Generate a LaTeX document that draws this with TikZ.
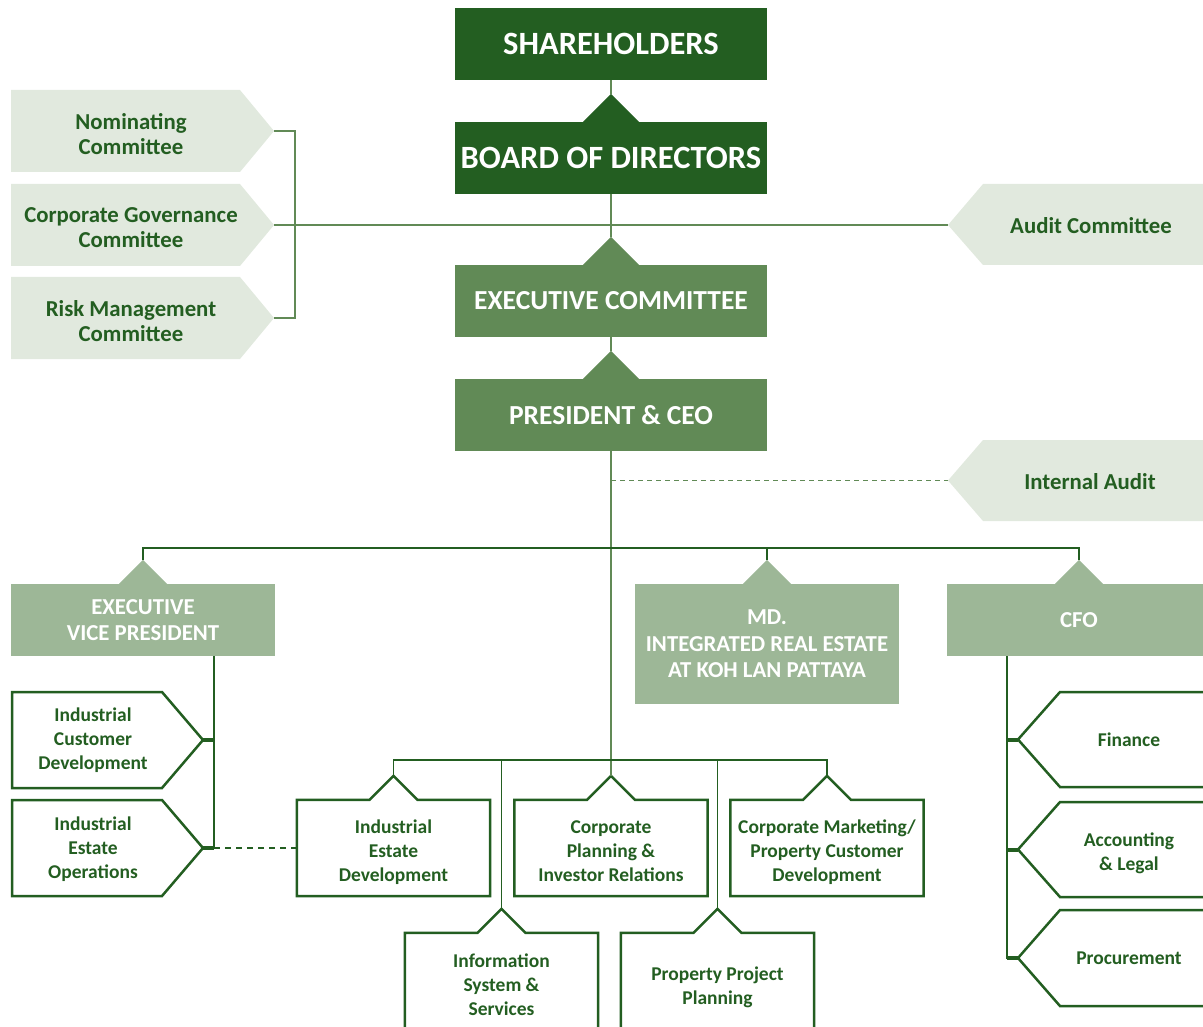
\documentclass[tikz,border=0pt]{standalone}
\usepackage{fontspec}
\setmainfont{Carlito}
\definecolor{dkg}{RGB}{35,94,33}
\definecolor{mdg}{RGB}{97,138,86}
\definecolor{ltg}{RGB}{157,183,151}
\definecolor{pal}{RGB}{225,233,222}
\newcommand{\fs}[2]{\fontsize{#1}{#2}\selectfont}
\newcommand{\ptri}[3]{\fill[#1] ([xshift=-#2]#3) -- ([yshift=#2]#3) -- ([xshift=#2]#3) -- cycle;}
\newcommand{\tbox}[1]{\draw[outl] (#1.north west) -- ([xshift=-24pt]#1.north) -- ([yshift=24pt]#1.north) -- ([xshift=24pt]#1.north) -- (#1.north east) -- (#1.south east) -- (#1.south west) -- cycle;}
\tikzset{
  hd/.style={rectangle, inner sep=0pt, minimum width=312pt, minimum height=72pt, text=white, font=\bfseries\fs{32.5}{36}, align=center},
  sub/.style={rectangle, inner sep=0pt, minimum width=264pt, minimum height=72pt, fill=ltg, text=white, font=\bfseries\fs{22.8}{26.5}, align=center},
  ctext/.style={text=dkg, font=\bfseries\fs{22.8}{25}, align=center, inner sep=0pt},
  btext/.style={text=dkg, font=\bfseries\fs{19.5}{24}, align=center, inner sep=0pt},
  bbox/.style={rectangle, inner sep=0pt, minimum width=193pt, minimum height=96pt},
  outl/.style={draw=dkg, line width=2.5pt, line join=miter},
  ln/.style={draw=dkg, line width=1.5pt},
  mln/.style={draw=mdg, line width=1.5pt},
  stub/.style={draw=dkg, line width=4pt},
}
\begin{document}
\begin{tikzpicture}[x=1pt,y=-1pt]
\useasboundingbox (0,0) rectangle (1203,1027);
\clip (0,0) rectangle (1203,1027);

% ---- top chain
\node[hd, fill=dkg] (sh) at (611,44) {SHAREHOLDERS};
\node[hd, fill=dkg] (bod) at (611,158) {BOARD OF DIRECTORS};
\node[hd, fill=mdg, font=\bfseries\fs{27.5}{31}] (exc) at (611,301) {EXECUTIVE COMMITTEE};
\node[hd, fill=mdg, font=\bfseries\fs{27.5}{31}] (pres) at (611,415) {PRESIDENT \& CEO};
\ptri{dkg}{28pt}{bod.north}
\ptri{mdg}{28pt}{exc.north}
\ptri{mdg}{28pt}{pres.north}

% ---- committees (left)
\fill[pal] (11,90) -- (240,90) -- (274,131) -- (240,172) -- (11,172) -- cycle;
\fill[pal] (11,184) -- (240,184) -- (274,225) -- (240,266) -- (11,266) -- cycle;
\fill[pal] (11,277) -- (240,277) -- (274,318) -- (240,359) -- (11,359) -- cycle;
\coordinate (nomT) at (274,131);
\coordinate (cgT) at (274,225);
\coordinate (rmT) at (274,318);
\node[ctext] (nom) at (131,134) {Nominating\\Committee};
\node[ctext] (cg) at (131,228) {Corporate Governance\\Committee};
\node[ctext] (rm) at (131,321) {Risk Management\\Committee};

% ---- audit (right)
\fill[pal] (1215,184) -- (983,184) -- (948,225) -- (983,265) -- (1215,265) -- cycle;
\fill[pal] (1215,440) -- (983,440) -- (948,480.5) -- (983,521) -- (1215,521) -- cycle;
\coordinate (auT) at (948,225);
\coordinate (iaT) at (948,480.5);
\node[ctext] (au) at (1091,226) {Audit Committee};
\node[ctext] (ia) at (1090,482) {Internal Audit};

% ---- level 2
\node[sub] (evp) at (143,620) {EXECUTIVE\\VICE PRESIDENT};
\node[sub, minimum height=120pt] (md) at (767,644) {MD.\\INTEGRATED REAL ESTATE\\AT KOH LAN PATTAYA};
\node[sub] (cfo) at (1079,620) {CFO};
\ptri{ltg}{24pt}{evp.north}
\ptri{ltg}{24pt}{md.north}
\ptri{ltg}{24pt}{cfo.north}

% ---- EVP children
\draw[outl] (12,692) -- (162,692) -- (203,740) -- (162,788) -- (12,788) -- cycle;
\draw[outl] (12,800) -- (162,800) -- (203,848) -- (162,896) -- (12,896) -- cycle;
\coordinate (icdT) at (203,740);
\coordinate (ieoT) at (203,848);
\node[btext] (icd) at (93,740) {Industrial\\Customer\\Development};
\node[btext] (ieo) at (93,849) {Industrial\\Estate\\Operations};

% ---- bottom boxes
\node[bbox] (ied) at (393.5,848) {};
\node[bbox] (cpir) at (611,848) {};
\node[bbox] (cmp) at (827,848) {};
\node[bbox, minimum height=104pt] (iss) at (501.5,985) {};
\node[bbox, minimum height=104pt] (ppp) at (717.5,985) {};
\node[btext] (iedt) at ([yshift=-4pt]ied.center) {Industrial\\Estate\\Development};
\node[btext] (cpirt) at ([yshift=-3pt]cpir.center) {Corporate\\Planning \&\\Investor Relations};
\node[btext] (cmpt) at ([yshift=-4pt]cmp.center) {Corporate Marketing/\\Property Customer\\Development};
\node[btext] (isst) at (iss.center) {Information\\System \&\\Services};
\node[btext] (pppt) at ([yshift=-2pt]ppp.center) {Property Project\\Planning};
\tbox{ied}
\tbox{cpir}
\tbox{cmp}
\tbox{iss}
\tbox{ppp}

% ---- CFO children
\draw[outl] (1215,692) -- (1060,692) -- (1018,739.5) -- (1060,787) -- (1215,787) -- cycle;
\draw[outl] (1215,802) -- (1060,802) -- (1018,849.5) -- (1060,897) -- (1215,897) -- cycle;
\draw[outl] (1215,910) -- (1060,910) -- (1018,958) -- (1060,1006) -- (1215,1006) -- cycle;
\coordinate (finT) at (1018,739.5);
\coordinate (accT) at (1018,849.5);
\coordinate (proT) at (1018,958);
\node[btext] (fin) at (1129,740) {Finance};
\node[btext] (acc) at (1129,853) {Accounting\\\& Legal};
\node[btext] (pro) at (1129,958) {Procurement};

% ---- connectors
\draw[mln] (sh.south) -- ([yshift=28pt]bod.north);
\draw[mln] (bod.south) -- ([yshift=28pt]exc.north);
\draw[mln] (exc.south) -- ([yshift=28pt]pres.north);
\draw[mln] (nomT) -- ++(21,0) |- (rmT);
\draw[mln] (cgT) -- (auT);
\draw[mln] (pres.south) -- ([yshift=24pt]cpir.north);
\draw[mln, dash pattern=on 5pt off 4pt] (pres.south |- iaT) -- (iaT);

\coordinate (h2) at ([yshift=36pt]evp.north);
\draw[ln] ([yshift=24pt]evp.north) -- (h2) -| ([yshift=24pt]cfo.north);
\draw[ln] ([yshift=24pt]md.north) -- (md.north |- h2);

\draw[ln] ([xshift=-61pt]evp.south east) |- (ieoT);
\draw[stub] (icdT) -- ++(11,0);
\draw[stub] (ieoT) -- ++(11,0);
\draw[ln, dash pattern=on 6pt off 5pt] ([xshift=11pt]ieoT) -- (ied.west);

\draw[ln] ([xshift=60pt]cfo.south west) |- (proT);
\draw[stub] (finT) -- ++(-11,0);
\draw[stub] (accT) -- ++(-11,0);
\draw[stub] (proT) -- ++(-11,0);

\coordinate (hb) at ([yshift=40pt]ied.north);
\draw[ln] ([yshift=24pt]ied.north) -- (hb) -| ([yshift=24pt]cmp.north);
\draw[ln] ([yshift=24pt]iss.north) -- (iss.north |- hb);
\draw[ln] ([yshift=24pt]ppp.north) -- (ppp.north |- hb);
\end{tikzpicture}
\end{document}
